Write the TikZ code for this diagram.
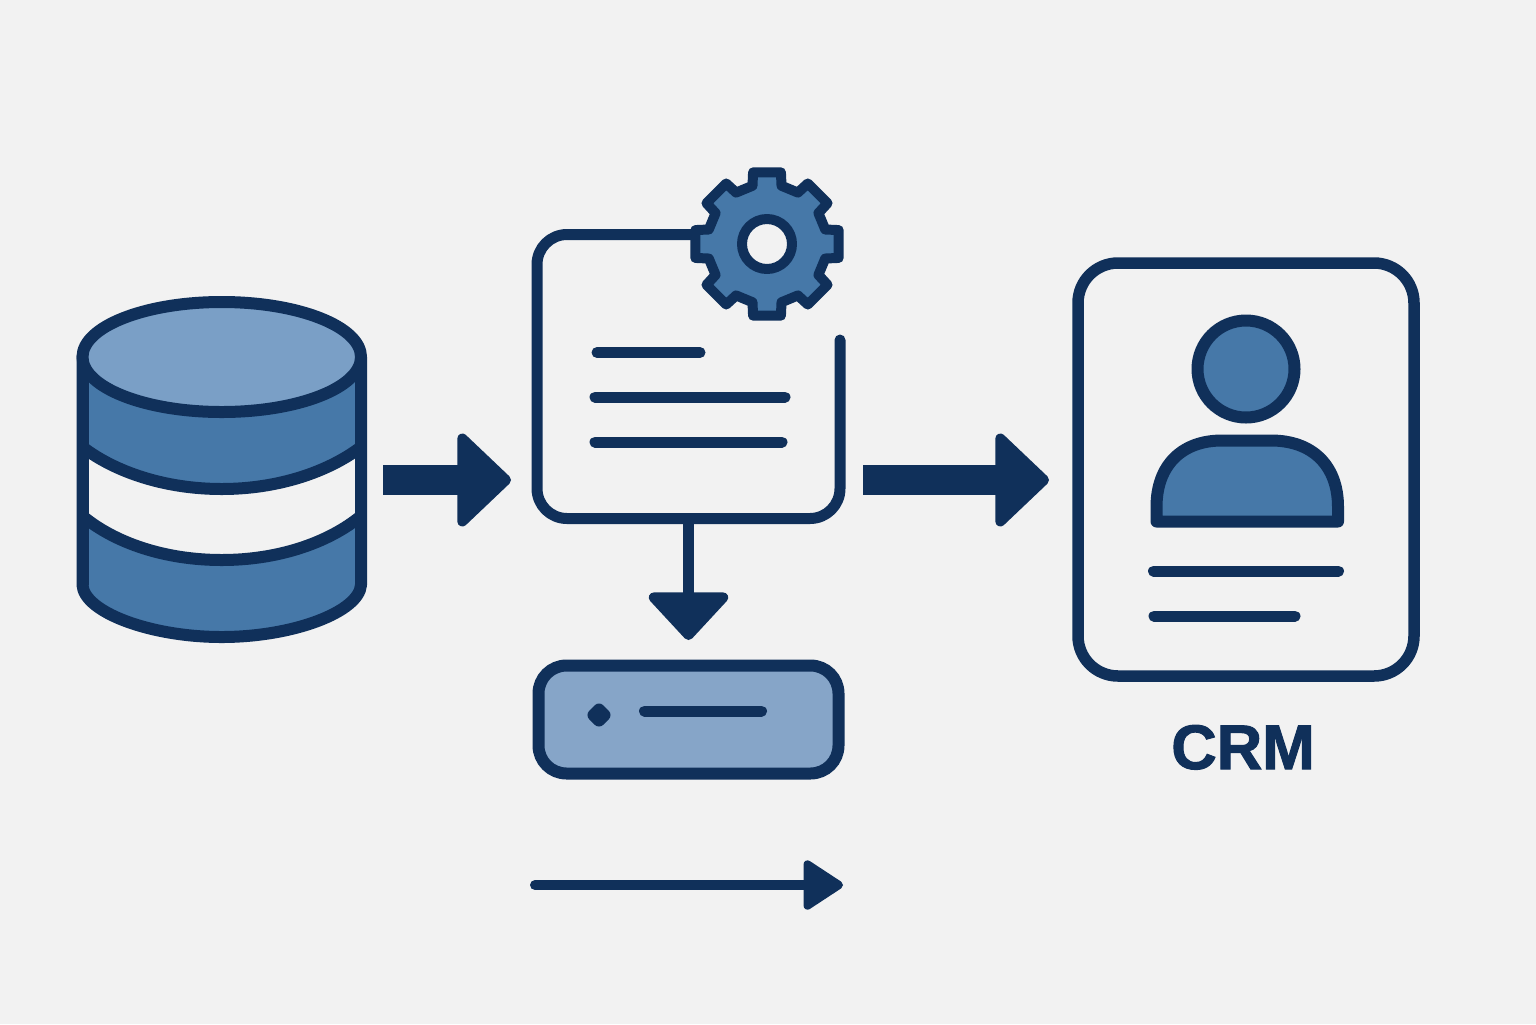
\documentclass[tikz,border=0pt]{standalone}
\usepackage{fontspec}
\setmainfont{Liberation Sans}
\newfontfamily\crmfont[BoldFeatures={FakeBold=1.6}]{Liberation Sans}
\usetikzlibrary{positioning,arrows.meta}
\definecolor{navy}{HTML}{10305A}
\definecolor{midblue}{HTML}{4678A8}
\definecolor{topblue}{HTML}{7A9FC6}
\definecolor{barblue}{HTML}{86A5C8}
\definecolor{paper}{HTML}{F2F2F2}
\begin{document}
\begin{tikzpicture}[
      x=0.5pt, y=-0.5pt,
      slot/.style={outer sep=0pt, inner sep=0pt},
      frame/.style={slot, draw=navy, line width=5.75pt, fill=paper, rounded corners=20pt},
      bar/.style={slot, draw=navy, line width=6pt, fill=barblue, rounded corners=14pt},
      ink/.style={draw=navy, line width=6pt, line join=round},
      txtline/.style={draw=navy, line width=5.5pt, line cap=round},
      blockarr/.style={draw=navy, line width=15pt, -{Triangle[length=28pt, width=52pt, round, line width=5pt]}},
      downarr/.style={draw=navy, line width=5.5pt, -{Triangle[length=25pt, width=45pt, round, line width=5pt]}},
      thinarr/.style={draw=navy, line width=5pt, line cap=round, -{Triangle[length=21.5pt, width=27pt, round, line width=4pt]}},
    ]
    \useasboundingbox (0,0) rectangle (1536,1024);
    \fill[paper] (0,0) rectangle (1536,1024);
    \coordinate (flow) at (0,480);
    \coordinate (lineA) at (535,885);
    \coordinate (lineB) at (843,885);
    \node[slot, minimum width=139.25pt, minimum height=167.5pt] (db) at (221.75,469.5) {};
    \node[slot, minimum width=151.5pt, minimum height=142pt]    (doc) at (688.5,376.5) {};
    \node[bar, minimum width=150pt, minimum height=54pt, below=73.5pt of doc] (store) {};
    \node[frame, minimum width=168pt, minimum height=206.5pt]   (card) at (1246,469.5) {};
    \node[slot, below=24.5pt of card, xshift=-1.5pt, font=\crmfont\fontsize{31.5}{31.5}\selectfont\bfseries, text=navy] (crm) {CRM};
    \draw[ink, fill=midblue] (82.5,357) -- (82.5,585) .. controls (84,612) and (150,637) .. (221.75,637) .. controls (293,637) and (359,612) .. (361,585) -- (361,357) -- cycle;
    \fill[paper] (82.5,447) .. controls (115,472) and (165,489) .. (221.75,489) .. controls (278,489) and (328,472) .. (361,447) -- (361,516) .. controls (328,543) and (278,560) .. (221.75,560) .. controls (165,560) and (115,543) .. (82.5,516) -- cycle;
    \draw[ink] (82.5,447) .. controls (115,472) and (165,489) .. (221.75,489) .. controls (278,489) and (328,472) .. (361,447);
    \draw[ink] (82.5,516) .. controls (115,543) and (165,560) .. (221.75,560) .. controls (278,560) and (328,543) .. (361,516);
    \draw[ink] (82.5,357) -- (82.5,585) (361,357) -- (361,585);
    \draw[ink, fill=topblue] (221.75,357) ellipse [x radius=139.25, y radius=55];
    \draw[ink, line width=5.5pt, line cap=round, rounded corners=15pt] (840,340) -- (840,518.5) -- (537,518.5) -- (537,234.5) -- (712,234.5);
    \draw[ink, line width=5pt, fill=midblue, shift={(767,244)}] (-14:60)
      \foreach \a in {0,45,...,315} { -- (\a-14:60) -- (\a-11:73) -- (\a+11:73) -- (\a+14:60) } -- cycle;
    \draw[ink, line width=5pt, fill=paper] (767,244) circle [radius=25];
    \draw[txtline] (597,352.5) -- (700,352.5);
    \draw[txtline] (595,397) -- (785,397);
    \draw[txtline] (595,442) -- (782,442);
    \fill[navy, rounded corners=3pt] (599,701) -- (613,715) -- (599,729) -- (585,715) -- cycle;
    \draw[txtline] (644.5,711) -- (761.5,711);
    \draw[ink, fill=midblue] (1246,369) circle [radius=48.5];
    \draw[ink, fill=midblue] (1156.5,521.5) -- (1156.5,507) .. controls (1156.5,465) and (1182,440.5) .. (1222,440.5) -- (1271,440.5) .. controls (1312,440.5) and (1338,465) .. (1338,507) -- (1338,521.5) -- cycle;
    \draw[txtline] (1153.5,571) -- (1338.5,571);
    \draw[txtline] (1154,616) -- (1295,616);
    \draw[blockarr, shorten <=11pt, shorten >=13pt] (db.east |- flow) -- (doc.west |- flow);
    \draw[blockarr, shorten <=11.5pt, shorten >=14.5pt] (doc.east |- flow) -- (card.west |- flow);
    \draw[downarr, shorten >=12.75pt] (doc.south) -- (store.north);
    \draw[thinarr] (lineA) -- (lineB);
  \end{tikzpicture}
\end{document}
